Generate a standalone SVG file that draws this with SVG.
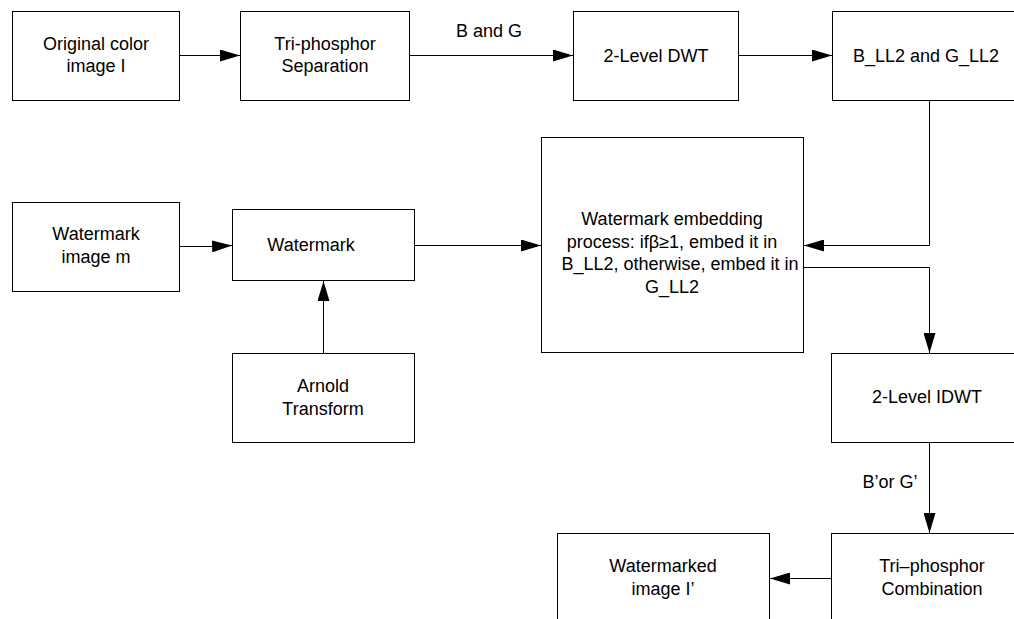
<svg xmlns="http://www.w3.org/2000/svg" width="1014" height="619" viewBox="0 0 1014 619">
<style>
.box{fill:#fff;stroke:#000;stroke-width:1}
.t{font-family:"Liberation Sans",Arial,sans-serif;font-size:18px;fill:#000;text-anchor:middle}
.c{fill:none;stroke:#000;stroke-width:1}
</style>
<defs>
<marker id="ah" markerWidth="20" markerHeight="12" refX="20" refY="6" orient="auto" markerUnits="userSpaceOnUse">
<path d="M0,0 L20,6 L0,12 Z" fill="#000"/>
</marker>
</defs>
<rect width="1014" height="619" fill="#fff"/>
<g id="connectors">
<line class="c" x1="179" y1="55.5" x2="240" y2="55.5" marker-end="url(#ah)"/>
<line class="c" x1="409" y1="55.5" x2="573" y2="55.5" marker-end="url(#ah)"/>
<text class="t" x="489" y="37">B and G</text>
<line class="c" x1="738" y1="55.5" x2="832" y2="55.5" marker-end="url(#ah)"/>
<polyline class="c" points="929.5,100 929.5,245.5 804,245.5" marker-end="url(#ah)"/>
<polyline class="c" points="804,267.5 929.5,267.5 929.5,353" marker-end="url(#ah)"/>
<polyline class="c" points="179,246.5 210,246.5 232,245.5" marker-end="url(#ah)"/>
<line class="c" x1="415" y1="245.5" x2="541" y2="245.5" marker-end="url(#ah)"/>
<line class="c" x1="323.5" y1="353" x2="323.5" y2="281" marker-end="url(#ah)"/>
<line class="c" x1="929.5" y1="443" x2="929.5" y2="533" marker-end="url(#ah)"/>
<text class="t" x="890" y="488">B’or G’</text>
<line class="c" x1="831" y1="578.5" x2="770" y2="578.5" marker-end="url(#ah)"/>
</g>
<g id="n-original">
<rect class="box" x="12.5" y="11.5" width="167" height="89"/>
<text class="t" x="96" y="50">Original color</text>
<text class="t" x="96" y="72">image I</text>
</g>
<g id="n-separation">
<rect class="box" x="240.5" y="11.5" width="169" height="89"/>
<text class="t" x="325" y="50">Tri-phosphor</text>
<text class="t" x="325" y="72">Separation</text>
</g>
<g id="n-dwt">
<rect class="box" x="573.5" y="11.5" width="165" height="89"/>
<text class="t" x="656" y="62">2-Level DWT</text>
</g>
<g id="n-ll2">
<rect class="box" x="832.5" y="11.5" width="190" height="89"/>
<text class="t" x="926" y="62">B_LL2 and G_LL2</text>
</g>
<g id="n-embed">
<rect class="box" x="541.5" y="137.5" width="262" height="215"/>
<text class="t" x="672" y="225">Watermark embedding</text>
<text class="t" x="672" y="248">process: ifβ≥1, embed it in</text>
<text class="t" x="680" y="270">B_LL2, otherwise, embed it in</text>
<text class="t" x="672" y="293">G_LL2</text>
</g>
<g id="n-wmimage">
<rect class="box" x="12.5" y="202.5" width="167" height="89"/>
<text class="t" x="96" y="240">Watermark</text>
<text class="t" x="96" y="263">image m</text>
</g>
<g id="n-watermark">
<rect class="box" x="232.5" y="209.5" width="182" height="71"/>
<text class="t" x="311" y="251">Watermark</text>
</g>
<g id="n-arnold">
<rect class="box" x="232.5" y="353.5" width="182" height="89"/>
<text class="t" x="323" y="392">Arnold</text>
<text class="t" x="323" y="415">Transform</text>
</g>
<g id="n-idwt">
<rect class="box" x="831.5" y="353.5" width="190" height="89"/>
<text class="t" x="927" y="403">2-Level IDWT</text>
</g>
<g id="n-combination">
<rect class="box" x="831.5" y="533.5" width="190" height="100"/>
<text class="t" x="932" y="572">Tri–phosphor</text>
<text class="t" x="932" y="595">Combination</text>
</g>
<g id="n-watermarked">
<rect class="box" x="557.5" y="533.5" width="212" height="100"/>
<text class="t" x="663" y="572">Watermarked</text>
<text class="t" x="663" y="595">image I’</text>
</g>
</svg>
